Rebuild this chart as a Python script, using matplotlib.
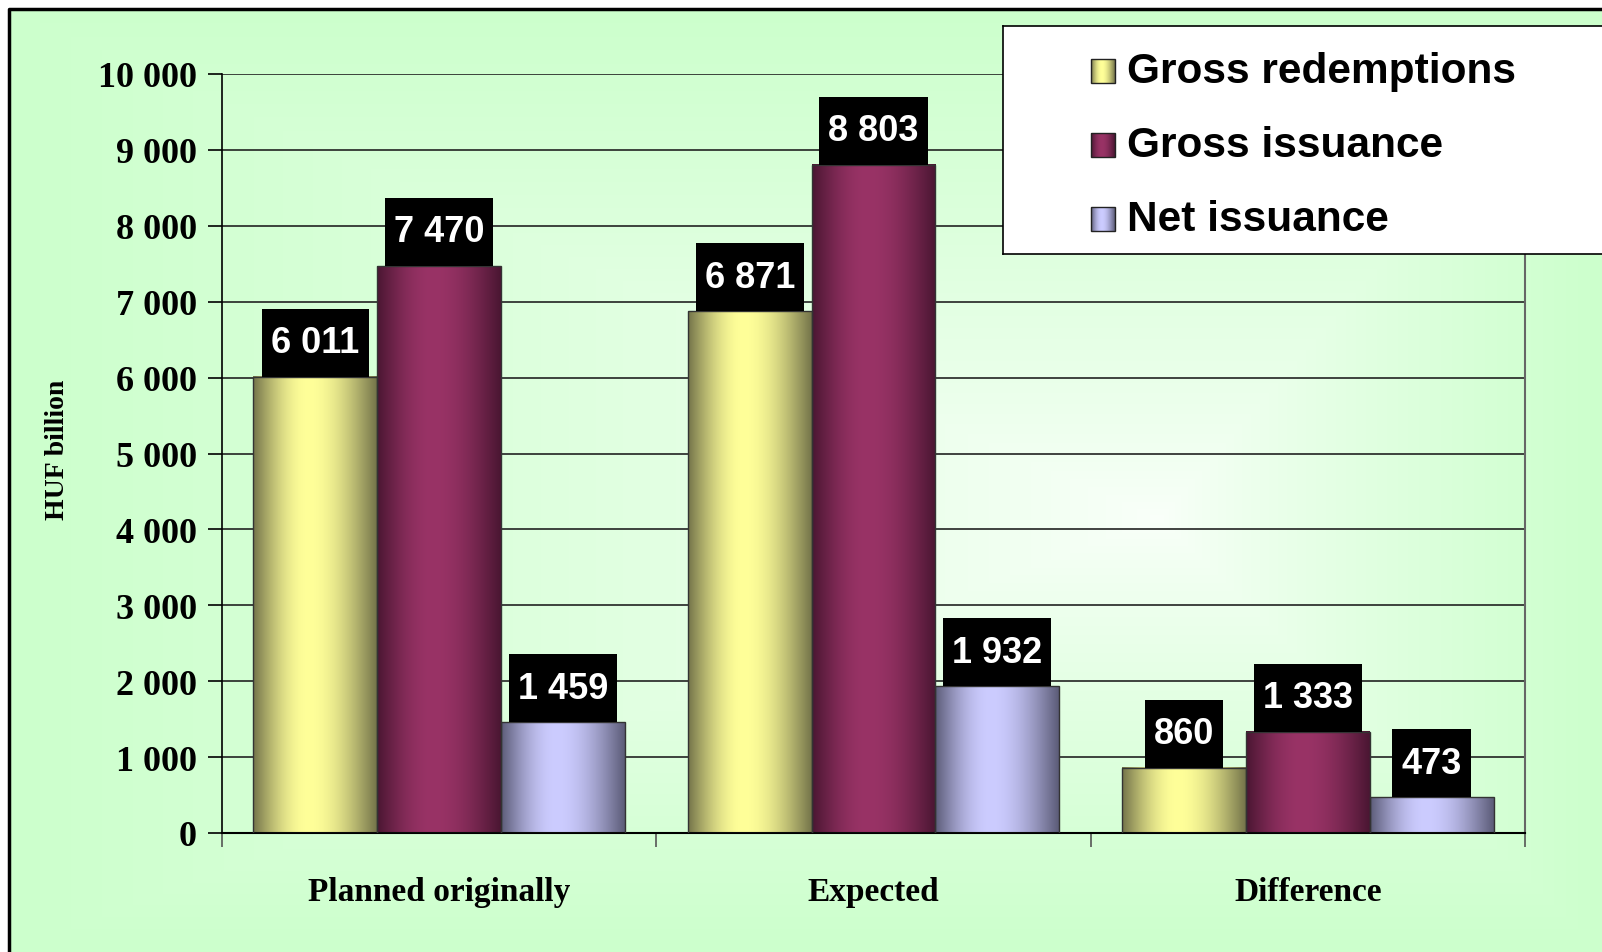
import numpy as np
import matplotlib.pyplot as plt
from matplotlib.path import Path

# 数据
categories = ["Planned originally", "Expected", "Difference"]
series_names = ["Gross redemptions", "Gross issuance", "Net issuance"]
gross_redemptions = [6011, 6871, 860]
gross_issuance = [7470, 8803, 1333]
net_issuance = [1459, 1932, 473]
y_ticks = list(range(0, 10001, 1000))

values = [gross_redemptions, gross_issuance, net_issuance]
# (暗色, 亮色)
bar_colors = [("#74744a", "#ffff99"), ("#4a1632", "#993366"), ("#5c5c78", "#ccccff")]

W, H = 1602, 953
fig = plt.figure(figsize=(W / 100, H / 100), dpi=100)

# 背景渐变
bg = fig.add_axes([0, 0, 1, 1], zorder=-10)
bg.set_xlim(0, W)
bg.set_ylim(H, 0)
bg.axis("off")
x0b, y0b = 9, 10
cx, cy = 1160, 520
xs = np.arange(x0b, W) + 0.5
ys = np.arange(y0b, H) + 0.5
dx = np.where(xs < cx, (cx - xs) / (cx - x0b), (xs - cx) / (W - cx))
dy = np.where(ys < cy, (cy - ys) / (cy - y0b), (ys - cy) / (H - cy))
t = np.maximum(dx[None, :], dy[:, None]) ** 0.8
edge = np.array([204, 255, 204]) / 255
center = np.array([250, 255, 250]) / 255
img = center + (edge - center) * t[..., None]
bg.imshow(img, extent=[x0b, W, H, y0b], aspect="auto")
bg.plot([x0b, x0b, W], [H, y0b, y0b], color="black", lw=2.5, solid_capstyle="butt")

ax = fig.add_axes([222 / W, 1 - 834 / H, (1525 - 222) / W, (834 - 75) / H])
ax.patch.set_alpha(0)


def grad_array(dark, light):
    d = np.array(plt.matplotlib.colors.to_rgb(dark))
    l = np.array(plt.matplotlib.colors.to_rgb(light))
    p = np.linspace(0, 1, 200)
    peak = 0.45
    f = np.where(p < peak, np.sin(np.pi / 2 * p / peak),
                 np.cos(np.pi / 2 * (p - peak) / (1 - peak)))
    return (d + (l - d) * f[:, None])[None, :, :]


def label_box(x0, y0, width, height, mutation_size):
    # 黑色标签框: 横向小边距, 纵向固定高度
    padx = 9
    xc = x0 + width / 2
    yc = y0 + height / 2
    w = width / 2 + padx
    return Path([(xc - w, yc - 34), (xc + w, yc - 34), (xc + w, yc + 34),
                 (xc - w, yc + 34), (xc - w, yc - 34)], closed=True)


bw = 0.285
x = np.arange(len(categories))
for i, (vals, (dark, light)) in enumerate(zip(values, bar_colors)):
    g = grad_array(dark, light)
    for j, v in enumerate(vals):
        xc = x[j] + (i - 1) * bw
        ax.imshow(g, extent=[xc - bw / 2, xc + bw / 2, 0, v], aspect="auto",
                  zorder=2, interpolation="bilinear")
        ax.add_patch(plt.Rectangle((xc - bw / 2, 0), bw, v, fill=False,
                                   ec="#333333", lw=1.0, zorder=3))
        ax.annotate(f"{v:,}".replace(",", " "), xy=(xc, v), xytext=(0, 24.5),
                    textcoords="offset points", ha="center", va="center",
                    color="white", fontsize=26, fontweight="bold",
                    family="Liberation Sans", zorder=5,
                    bbox=dict(boxstyle=label_box, fc="black", ec="none"))

ax.set_xlim(-0.5, 2.5)
ax.set_ylim(0, 10000)
ax.set_yticks(y_ticks)
ax.set_yticklabels([f"{v:,}".replace(",", " ") for v in y_ticks],
                   family="Liberation Serif", fontweight="bold", fontsize=26)
ax.yaxis.grid(True, color="#222222", lw=1.2)
ax.set_axisbelow(True)
ax.tick_params(axis="y", length=10, width=1.2, pad=8)

ax.set_xticks([-0.5, 0.5, 1.5, 2.5])
ax.set_xticklabels([])
ax.set_xticks(x, minor=True)
ax.set_xticklabels(categories, minor=True, family="Liberation Serif",
                   fontweight="bold", fontsize=24)
ax.tick_params(axis="x", which="major", length=10, width=1.2, color="#555555")
ax.tick_params(axis="x", which="minor", length=0, pad=31)
ax.spines["top"].set_visible(False)
ax.spines["right"].set_color("#666666")
ax.spines["right"].set_linewidth(1.5)
ax.spines["left"].set_linewidth(1.2)
ax.spines["bottom"].set_linewidth(1.5)

fig.text(58 / W, 1 - 450 / H, "HUF billion", rotation=90, ha="center",
         va="center", family="Liberation Serif", fontweight="bold", fontsize=20)

# 图例
leg = fig.add_axes([1003 / W, 1 - 255 / H, 800 / W, 228 / H], zorder=10)
leg.set_xticks([])
leg.set_yticks([])
leg.set_facecolor("white")
for s in leg.spines.values():
    s.set_linewidth(1.2)
row_y = [45, 119, 193]
for name, (dark, light), ry in zip(series_names, bar_colors, row_y):
    g = grad_array(dark, light)
    leg.imshow(g, extent=[88, 112, ry + 12, ry - 12], aspect="auto")
    leg.add_patch(plt.Rectangle((88, ry - 12), 24, 24, fill=False, ec="#222222", lw=1))
    leg.text(124, ry, name, va="center", ha="left", family="Liberation Sans",
             fontweight="bold", fontsize=30.5)
leg.set_xlim(0, 800)
leg.set_ylim(228, 0)

fig.savefig("out.png", dpi=100)
